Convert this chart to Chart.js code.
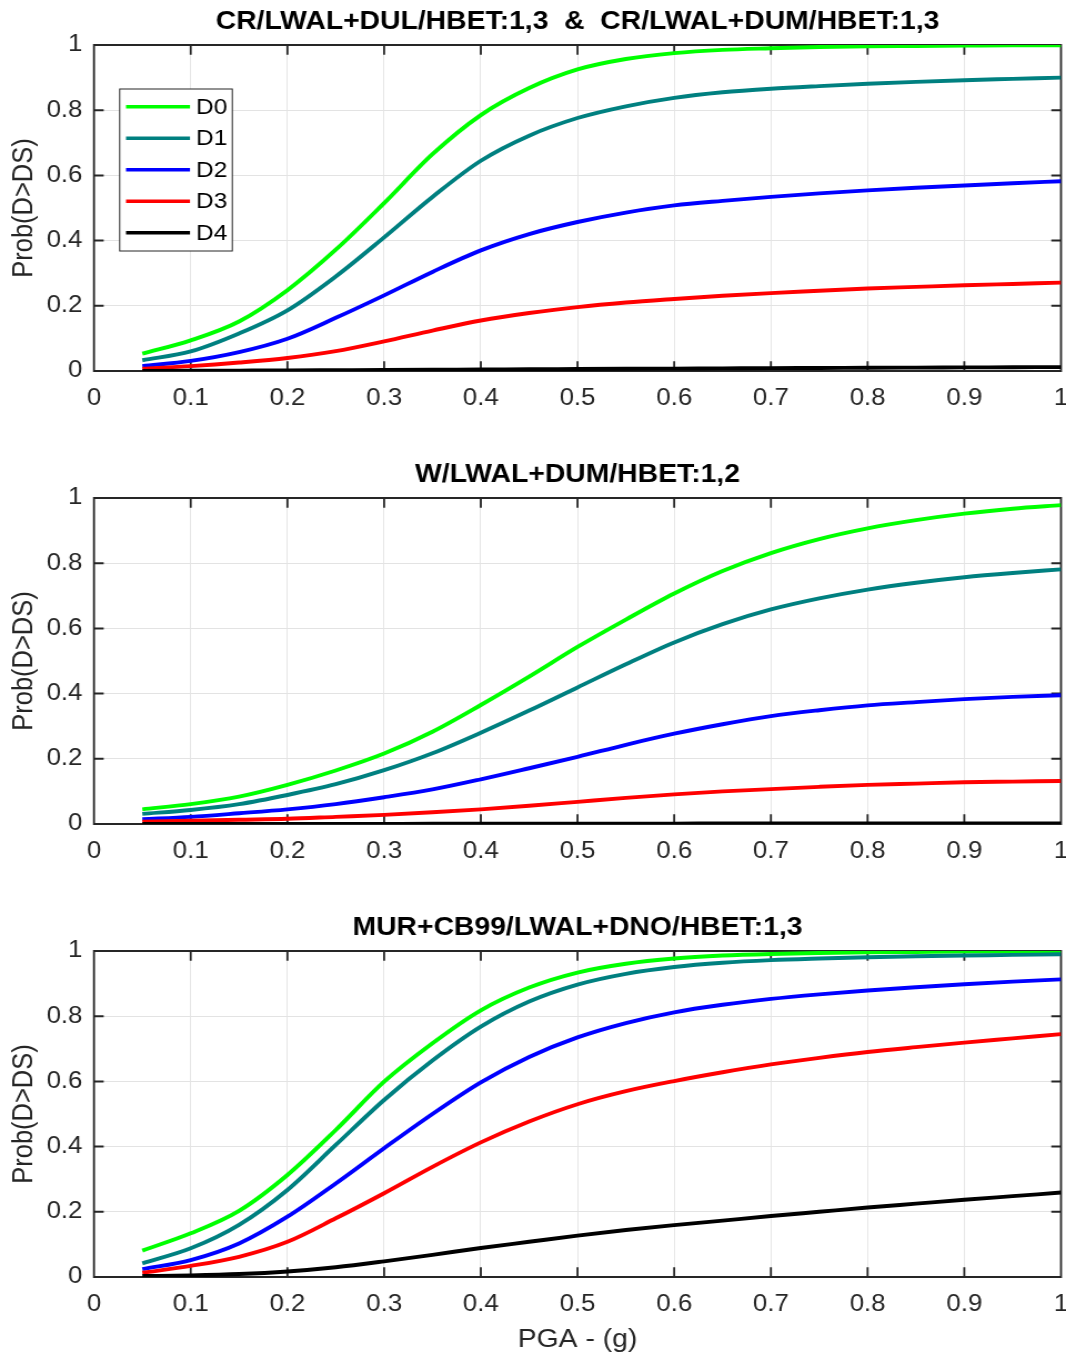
<!DOCTYPE html>
<html>
<head>
<meta charset="utf-8">
<script src="https://cdn.jsdelivr.net/npm/chart.js@4.4.1/dist/chart.umd.min.js"></script>
<style>
  html, body { margin: 0; padding: 0; background: #ffffff; }
  #wrap { position: relative; width: 1066px; height: 1358px; overflow: hidden; background: #fff; }
  .panel { position: absolute; left: 0; transform-origin: 0 0; }
  canvas { display: block; }
</style>
</head>
<body>
<div id="wrap">
  <div class="panel" id="p1" style="top:0px"><canvas id="c1"></canvas></div>
  <div class="panel" id="p2" style="top:453px"><canvas id="c2"></canvas></div>
  <div class="panel" id="p3" style="top:906px"><canvas id="c3"></canvas></div>
</div>
<script>
// ---------------- DATA ----------------
const PGA = [0.05,0.10,0.15,0.20,0.25,0.30,0.35,0.40,0.45,0.50,0.55,0.60,0.65,0.70,0.75,0.80,0.85,0.90,0.95,1.00];
const SERIES_LABELS = ['D0','D1','D2','D3','D4'];
const X_TICKS = [0,0.1,0.2,0.3,0.4,0.5,0.6,0.7,0.8,0.9,1];
const X_TICK_LABELS = ['0','0.1','0.2','0.3','0.4','0.5','0.6','0.7','0.8','0.9','1'];
const Y_TICKS = [0,0.2,0.4,0.6,0.8,1];
const Y_TICK_LABELS = ['0','0.2','0.4','0.6','0.8','1'];

const TITLE_1 = 'CR/LWAL+DUL/HBET:1,3  &  CR/LWAL+DUM/HBET:1,3';
const TITLE_2 = 'W/LWAL+DUM/HBET:1,2';
const TITLE_3 = 'MUR+CB99/LWAL+DNO/HBET:1,3';
const Y_TITLE = 'Prob(D>DS)';
const X_TITLE = 'PGA - (g)';

// Panel 1: CR
const CR_D0 = [0.053,0.094,0.152,0.248,0.372,0.515,0.665,0.785,0.868,0.925,0.957,0.975,0.985,0.990,0.994,0.996,0.997,0.998,0.999,0.999];
const CR_D1 = [0.033,0.060,0.115,0.186,0.290,0.410,0.534,0.645,0.722,0.776,0.812,0.838,0.855,0.866,0.874,0.881,0.887,0.892,0.896,0.900];
const CR_D2 = [0.015,0.031,0.058,0.099,0.163,0.232,0.304,0.370,0.420,0.457,0.486,0.508,0.522,0.534,0.545,0.554,0.562,0.569,0.576,0.582];
const CR_D3 = [0.007,0.015,0.026,0.040,0.061,0.091,0.124,0.155,0.178,0.196,0.210,0.221,0.231,0.239,0.246,0.253,0.258,0.263,0.267,0.271];
const CR_D4 = [0.0003,0.0008,0.0013,0.0018,0.0024,0.0030,0.0037,0.0045,0.0052,0.0060,0.0067,0.0074,0.0080,0.0087,0.0093,0.0099,0.0105,0.0110,0.0115,0.0120];

// Panel 2: W
const W_D0 = [0.045,0.061,0.084,0.120,0.164,0.216,0.283,0.365,0.452,0.543,0.627,0.707,0.776,0.831,0.874,0.907,0.932,0.952,0.967,0.978];
const W_D1 = [0.031,0.043,0.061,0.089,0.122,0.165,0.217,0.280,0.348,0.419,0.490,0.557,0.613,0.658,0.692,0.719,0.740,0.757,0.770,0.781];
const W_D2 = [0.015,0.022,0.033,0.045,0.061,0.082,0.106,0.137,0.171,0.206,0.243,0.277,0.306,0.331,0.349,0.364,0.374,0.383,0.390,0.395];
const W_D3 = [0.007,0.010,0.013,0.016,0.022,0.028,0.036,0.045,0.056,0.068,0.080,0.091,0.100,0.107,0.114,0.120,0.124,0.128,0.130,0.132];
const W_D4 = [0.0001,0.0001,0.0002,0.0003,0.0004,0.0005,0.0006,0.0008,0.0009,0.0010,0.0012,0.0013,0.0014,0.0015,0.0016,0.0017,0.0018,0.0019,0.0020,0.0020];

// Panel 3: MUR
const MUR_D0 = [0.081,0.134,0.203,0.313,0.451,0.599,0.717,0.818,0.888,0.934,0.961,0.977,0.986,0.991,0.994,0.996,0.997,0.998,0.998,0.999];
const MUR_D1 = [0.042,0.088,0.160,0.267,0.405,0.543,0.664,0.768,0.845,0.897,0.930,0.951,0.964,0.972,0.977,0.981,0.984,0.986,0.988,0.990];
const MUR_D2 = [0.024,0.052,0.103,0.185,0.287,0.395,0.500,0.597,0.675,0.735,0.779,0.812,0.835,0.853,0.867,0.879,0.889,0.898,0.906,0.913];
const MUR_D3 = [0.013,0.034,0.062,0.108,0.180,0.257,0.338,0.413,0.477,0.530,0.570,0.601,0.628,0.652,0.672,0.690,0.705,0.719,0.732,0.745];
const MUR_D4 = [0.003,0.005,0.009,0.017,0.030,0.048,0.068,0.089,0.108,0.127,0.144,0.159,0.173,0.187,0.200,0.213,0.225,0.237,0.248,0.259];

// ---------------- STYLE / LAYOUT ----------------
const COLORS = ['#00ff00','#008080','#0000ff','#ff0000','#000000'];
const FONT = "'Liberation Sans', Arial, Helvetica, sans-serif";
const AXIS_COLOR = '#262626';
const GRID_COLOR = '#e3e3e3';
const W = 960;                 // internal canvas width
const S = 1066 / W;            // horizontal stretch (reference aspect)
const TICK_FS = 23.3, LABEL_FS = 25.5, LEGEND_FS = 22;
const PLOT_LEFT = 94, PLOT_RIGHT = 1061;  // screen px
const PLOT_TOP = 45, PLOT_BOTTOM = 371;   // canvas px

const framePlugin = {
  id: 'frame',
  beforeDatasetsDraw(chart) {
    const {ctx, chartArea: a, scales: {x, y}} = chart;
    const tl = 9.7;
    ctx.save();
    ctx.strokeStyle = AXIS_COLOR;
    ctx.lineCap = 'butt';
    ctx.lineWidth = 2 / S;
    ctx.beginPath();
    x.ticks.forEach(t => {
      const px = x.getPixelForValue(t.value);
      ctx.moveTo(px, a.bottom); ctx.lineTo(px, a.bottom - tl);
      ctx.moveTo(px, a.top); ctx.lineTo(px, a.top + tl);
    });
    ctx.moveTo(a.left, a.top - 1); ctx.lineTo(a.left, a.bottom + 1);
    ctx.moveTo(a.right, a.top - 1); ctx.lineTo(a.right, a.bottom + 1);
    ctx.stroke();
    ctx.lineWidth = 2;
    ctx.beginPath();
    y.ticks.forEach(t => {
      const py = y.getPixelForValue(t.value);
      ctx.moveTo(a.left, py); ctx.lineTo(a.left + tl / S, py);
      ctx.moveTo(a.right, py); ctx.lineTo(a.right - tl / S, py);
    });
    ctx.moveTo(a.left, a.top); ctx.lineTo(a.right, a.top);
    ctx.moveTo(a.left, a.bottom); ctx.lineTo(a.right, a.bottom);
    ctx.stroke();
    ctx.restore();
  }
};

const boxLegendPlugin = {
  id: 'boxLegend',
  afterDatasetsDraw(chart, args, opts) {
    if (!opts || !opts.show) return;
    const {ctx, chartArea: a} = chart;
    const left = a.left + (119.7 - PLOT_LEFT) / S;
    const top = a.top + (89 - PLOT_TOP);
    const w = (232.3 - 119.7) / S;
    const h = 251 - 89;
    ctx.save();
    ctx.fillStyle = '#ffffff';
    ctx.fillRect(left, top, w, h);
    ctx.strokeStyle = AXIS_COLOR;
    ctx.lineWidth = 1;
    ctx.strokeRect(left, top, w, h);
    ctx.font = LEGEND_FS + 'px ' + FONT;
    ctx.textBaseline = 'middle';
    ctx.textAlign = 'left';
    chart.data.datasets.forEach((ds, i) => {
      const yy = top + 17.7 + i * 31.5;
      ctx.strokeStyle = ds.borderColor;
      ctx.lineWidth = 3.6;
      ctx.beginPath();
      ctx.moveTo(left + (126 - 119.7) / S, yy);
      ctx.lineTo(left + (190 - 119.7) / S, yy);
      ctx.stroke();
      ctx.fillStyle = '#000000';
      ctx.fillText(ds.label, left + (196 - 119.7) / S, yy + 1);
    });
    ctx.restore();
  }
};

function makeChart(panelId, canvasId, H, title, seriesList, showLegend, showXTitle) {
  const panel = document.getElementById(panelId);
  panel.style.transform = 'scaleX(' + S + ')';
  const canvas = document.getElementById(canvasId);
  canvas.width = W; canvas.height = H;
  canvas.style.width = W + 'px'; canvas.style.height = H + 'px';
  const datasets = seriesList.map((ys, i) => ({
    label: SERIES_LABELS[i],
    data: PGA.map((xv, j) => ({x: xv, y: ys[j]})),
    borderColor: COLORS[i],
    backgroundColor: COLORS[i],
    borderWidth: 3.9,
    pointRadius: 0,
    fill: false,
    cubicInterpolationMode: 'monotone',
    order: seriesList.length - 1 - i
  }));
  const titleLH = LABEL_FS * 1.2;
  return new Chart(canvas.getContext('2d'), {
    type: 'line',
    data: { datasets },
    options: {
      responsive: false,
      animation: false,
      devicePixelRatio: 1,
      layout: { padding: { left: 0, right: W - PLOT_RIGHT / S, top: 0, bottom: 0 } },
      plugins: {
        legend: { display: false },
        tooltip: { enabled: false },
        boxLegend: { show: showLegend },
        title: {
          display: true, text: title, fullSize: false, color: '#000000',
          font: { family: FONT, size: LABEL_FS, weight: 'bold', lineHeight: 1.2 },
          padding: { top: 22 - titleLH / 2, bottom: PLOT_TOP - (22 - titleLH / 2) - titleLH }
        }
      },
      scales: {
        x: {
          type: 'linear', min: 0, max: 1,
          afterBuildTicks: s => { s.ticks = X_TICKS.map(v => ({ value: v })); },
          afterFit: s => { s.height = H - PLOT_BOTTOM; s.paddingLeft = 0; s.paddingRight = 0; },
          ticks: {
            autoSkip: false, maxRotation: 0, padding: 27.7 - TICK_FS * 0.6, color: AXIS_COLOR,
            font: { family: FONT, size: TICK_FS },
            callback: (v, i) => X_TICK_LABELS[i]
          },
          grid: { color: GRID_COLOR, lineWidth: 1 / S, drawTicks: false },
          border: { display: false },
          title: {
            display: showXTitle, text: X_TITLE, color: AXIS_COLOR,
            font: { family: FONT, size: LABEL_FS }, padding: { top: 0, bottom: 18 - titleLH / 2 }
          }
        },
        y: {
          type: 'linear', min: 0, max: 1,
          afterBuildTicks: s => { s.ticks = Y_TICKS.map(v => ({ value: v })); },
          afterFit: s => { s.width = PLOT_LEFT / S; s.paddingTop = 0; s.paddingBottom = 0; },
          ticks: {
            padding: 11.5 / S, color: AXIS_COLOR,
            font: { family: FONT, size: TICK_FS },
            callback: (v, i) => Y_TICK_LABELS[i]
          },
          grid: { color: GRID_COLOR, lineWidth: 1, drawTicks: false },
          border: { display: false },
          title: {
            display: true, text: Y_TITLE, color: AXIS_COLOR,
            font: { family: FONT, size: LABEL_FS }, padding: { top: 24 / S - titleLH / 2, bottom: 0 }
          }
        }
      }
    },
    plugins: [framePlugin, boxLegendPlugin]
  });
}

makeChart('p1', 'c1', 453, TITLE_1, [CR_D0, CR_D1, CR_D2, CR_D3, CR_D4], true, false);
makeChart('p2', 'c2', 453, TITLE_2, [W_D0, W_D1, W_D2, W_D3, W_D4], false, false);
makeChart('p3', 'c3', 452, TITLE_3, [MUR_D0, MUR_D1, MUR_D2, MUR_D3, MUR_D4], false, true);
</script>
</body>
</html>
